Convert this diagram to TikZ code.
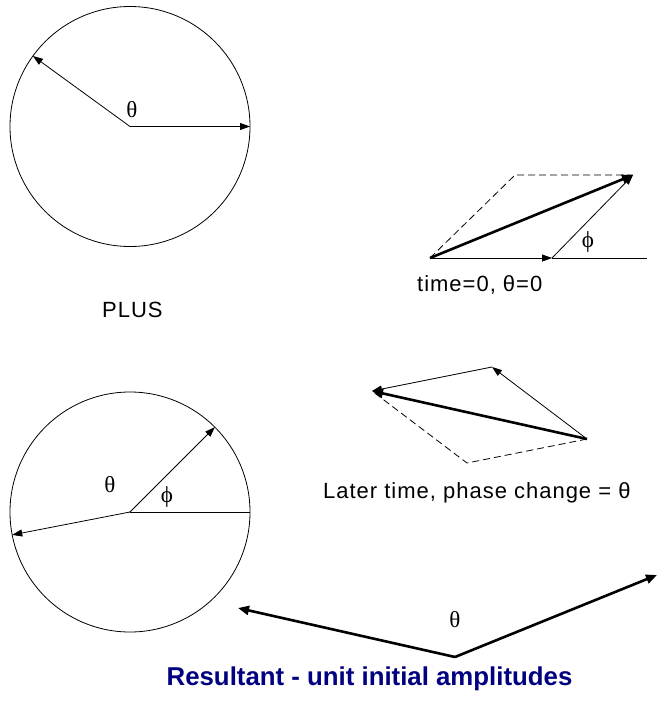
\documentclass[tikz,border=0pt]{standalone}
\usepackage{fontspec}
\setmainfont{Liberation Serif}
\newfontfamily\lsans[LetterSpace=4.5]{Liberation Sans}
\newfontfamily\lbold{Liberation Sans}
\usetikzlibrary{arrows.meta}
\definecolor{navytitle}{RGB}{0,0,128}
\tikzset{
  thinline/.style={line width=0.8pt},
  vec/.style={line width=0.8pt, -{Triangle[length=10pt,width=7pt]}},
  bigvec/.style={line width=2.6pt, -{Triangle[length=11pt,width=9pt]}},
  dashline/.style={line width=0.8pt, dash pattern=on 7pt off 4pt},
  ring/.style={circle, draw, line width=0.8pt, minimum size=240pt, inner sep=0pt, outer sep=0pt},
  lbl/.style={font=\lsans\fontsize{22}{26}\selectfont, inner sep=0pt},
  greek/.style={font=\fontsize{23}{27}\selectfont, inner sep=0pt},
  titletext/.style={font=\lbold\bfseries\fontsize{25.8}{30}\selectfont, text=navytitle, inner sep=0pt}
}
\begin{document}
\begin{tikzpicture}[x=1pt,y=-1pt]
\useasboundingbox (0,0) rectangle (657,702);
% circle 1
\node[ring] (c1) at (130,126.5) {};
\draw[vec] (c1.center) -- (c1.east);
\draw[vec] (c1.center) -- (c1.144);
\node[greek] (t1) at (132,110) {θ};
% circle 2
\node[ring] (c2) at (130,512) {};
\draw[vec] (c2.center) -- (c2.45);
\draw[vec] (c2.center) -- (c2.191);
\draw[thinline] (c2.center) -- (c2.east);
\node[greek] (t2) at (110,485) {θ};
\node[greek] (p2) at (167,497) {ϕ};
% phasor diagram 1
\coordinate (O1) at (430,258);
\coordinate (A1) at (552,258);
\coordinate (E1) at (647,258);
\coordinate (B1) at (633,175);
\coordinate (D1) at (515,175);
\draw[dashline] (O1) -- (D1) -- (B1);
\draw[thinline] (A1) -- (E1);
\draw[vec] (O1) -- (A1);
\draw[vec] (A1) -- (B1);
\draw[bigvec] (O1) -- (B1);
\node[greek] (p1) at (588,242) {ϕ};
\node[lbl, anchor=base west] (lab1) at (417,291) {time=0, θ=0};
\node[lbl, anchor=base west] (plus) at (102,317) {PLUS};
% phasor diagram 2
\coordinate (R2) at (587,439);
\coordinate (T2) at (492,367);
\coordinate (L2) at (372,391);
\coordinate (B2) at (467,463);
\draw[dashline] (R2) -- (B2) -- (L2);
\draw[vec] (R2) -- (T2);
\draw[vec] (T2) -- (L2);
\draw[bigvec] (R2) -- (L2);
\node[lbl, anchor=base west] (lab2) at (323,498) {Later time, phase change = θ};
% resultant
\coordinate (V3) at (455,657);
\coordinate (L3) at (238,608);
\coordinate (R3) at (657,575);
\draw[bigvec] (V3) -- (L3);
\draw[bigvec] (V3) -- (R3);
\node[greek] (t3) at (455,620) {θ};
\node[titletext, anchor=base] (title) at (369.5,685) {Resultant - unit initial amplitudes};
\end{tikzpicture}
\end{document}
